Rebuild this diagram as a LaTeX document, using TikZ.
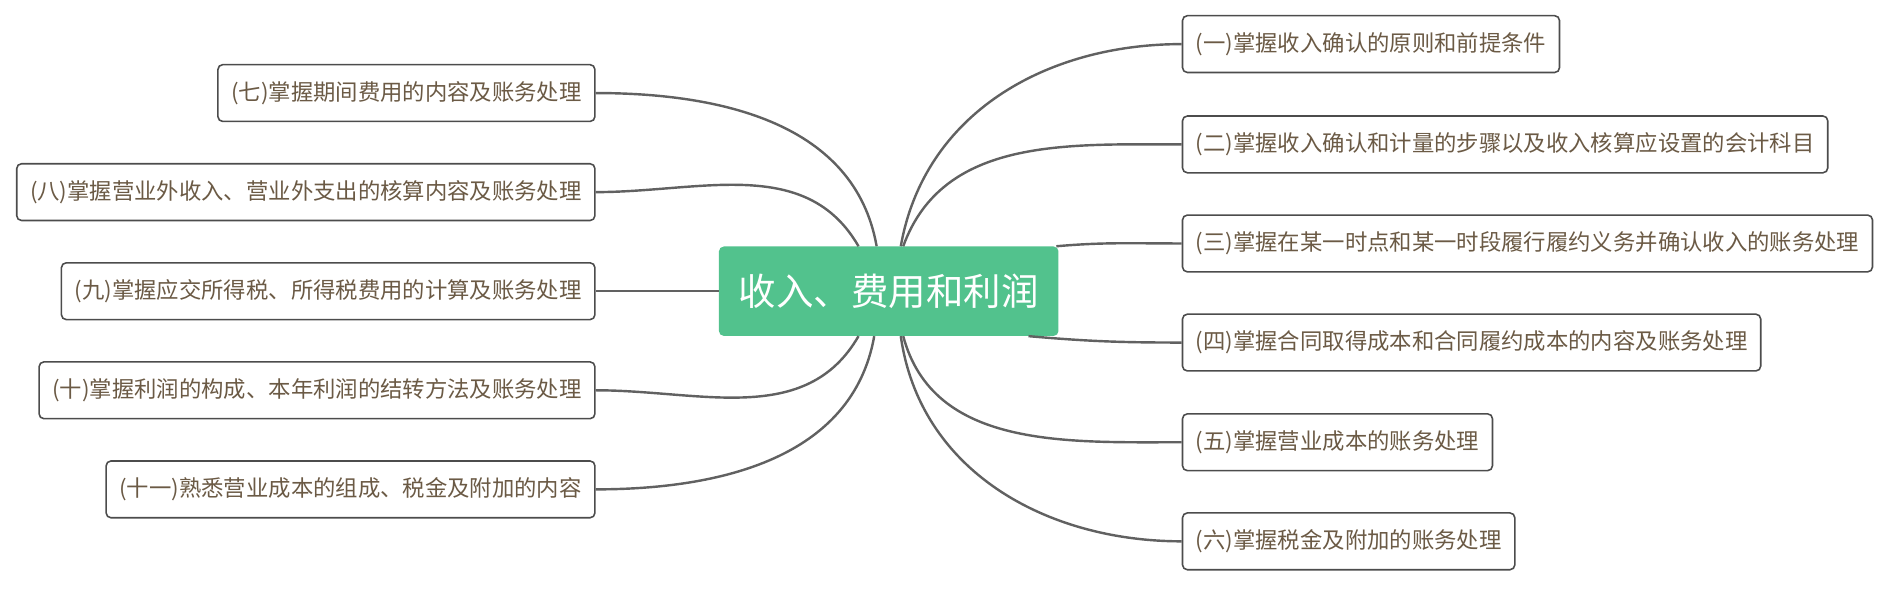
\documentclass[tikz,border=0pt]{standalone}
\usepackage{fontspec}
\newfontfamily\cjk{Noto Sans CJK SC}
\begin{document}
\begin{tikzpicture}[x=1pt,y=-1pt,
  box/.style={draw=black!70,line width=1.3pt,rounded corners=4pt,fill=white,text=txt,font=\cjk\fontsize{18.5}{20}\selectfont,minimum height=47pt,inner xsep=11pt,anchor=west},
  lbox/.style={box,anchor=east},
  con/.style={draw=black!62,line width=2pt}]
\definecolor{txt}{HTML}{6B5A45}
\definecolor{grn}{HTML}{52C28D}
\useasboundingbox (0,0) rectangle (1565,495);
\node[fill=grn,rounded corners=4pt,minimum width=281pt,minimum height=74pt,text=white,font=\cjk\fontsize{31}{36}\selectfont] (c) at (735.5,241) {收入、费用和利润};
\node[box] (r1) at (978,36.5) {(一)掌握收入确认的原则和前提条件};
\node[box] (r2) at (978,119.5) {(二)掌握收入确认和计量的步骤以及收入核算应设置的会计科目};
\node[box] (r3) at (978,201.5) {(三)掌握在某一时点和某一时段履行履约义务并确认收入的账务处理};
\node[box] (r4) at (978,283.5) {(四)掌握合同取得成本和合同履约成本的内容及账务处理};
\node[box] (r5) at (978,366) {(五)掌握营业成本的账务处理};
\node[box] (r6) at (978,448) {(六)掌握税金及附加的账务处理};
\node[lbox] (l7) at (493,77) {(七)掌握期间费用的内容及账务处理};
\node[lbox] (l8) at (493,159) {(八)掌握营业外收入、营业外支出的核算内容及账务处理};
\node[lbox] (l9) at (493,241) {(九)掌握应交所得税、所得税费用的计算及账务处理};
\node[lbox] (l10) at (493,323) {(十)掌握利润的构成、本年利润的结转方法及账务处理};
\node[lbox] (l11) at (493,405) {(十一)熟悉营业成本的组成、税金及附加的内容};
\draw[con] ([xshift=10pt]c.north) to[out=80,in=180] (r1.west);
\draw[con] ([xshift=12pt]c.north) to[out=70,in=180] (r2.west);
\draw[con] ([xshift=-2pt]c.north east) to[out=5,in=180] (r3.west);
\draw[con] ([xshift=-25pt]c.south east) to[out=-5,in=180] (r4.west);
\draw[con] ([xshift=12pt]c.south) to[out=-75,in=180] (r5.west);
\draw[con] ([xshift=10pt]c.south) to[out=-82,in=180] (r6.west);
\draw[con] ([xshift=-10pt]c.north) to[out=100,in=0] (l7.east);
\draw[con] ([xshift=-25pt]c.north) to[out=120,in=0] (l8.east);
\draw[con] (c.west) -- (l9.east);
\draw[con] ([xshift=-25pt]c.south) to[out=-120,in=0] (l10.east);
\draw[con] ([xshift=-12pt]c.south) to[out=-100,in=0] (l11.east);
\end{tikzpicture}
\end{document}
